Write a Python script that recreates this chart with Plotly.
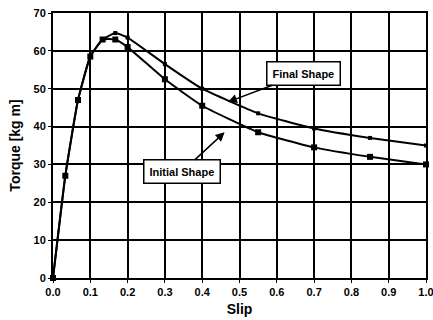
import plotly.graph_objects as go

slip = [0.0, 0.033, 0.067, 0.1, 0.133, 0.167, 0.2, 0.3, 0.4, 0.55, 0.7, 0.85, 1.0]
initial_torque = [0, 27, 47, 58.5, 63, 63, 61, 52.5, 45.5, 38.5, 34.5, 32, 30]
final_torque = [0, 27, 47, 58.5, 63, 64.7, 63.5, 56.5, 50, 43.5, 39.5, 37, 35]
x_ticks = [0.0, 0.1, 0.2, 0.3, 0.4, 0.5, 0.6, 0.7, 0.8, 0.9, 1.0]
y_ticks = [0, 10, 20, 30, 40, 50, 60, 70]

fig = go.Figure()
fig.add_trace(go.Scatter(x=slip, y=final_torque, mode="lines+markers",
                         line=dict(color="black", width=2, shape="spline", smoothing=0.4),
                         marker=dict(symbol="square", size=4, color="black"), name="Final Shape",
                         cliponaxis=False))
fig.add_trace(go.Scatter(x=slip, y=initial_torque, mode="lines+markers",
                         line=dict(color="black", width=2, shape="spline", smoothing=0.4),
                         marker=dict(symbol="square", size=6, color="black"), name="Initial Shape",
                         cliponaxis=False))

font_b = dict(family="Liberation Sans, Arial, sans-serif", color="black", size=11, weight="bold")

fig.add_annotation(x=0.469, y=46.5, ax=0.672, ay=54.0, axref="x", ayref="y",
                   text="Final Shape", showarrow=True, arrowhead=2, arrowsize=1.2,
                   arrowwidth=1.5, arrowcolor="black", bordercolor="black", borderwidth=1.5,
                   borderpad=5, bgcolor="white", font=font_b)
fig.add_annotation(x=0.46, y=38.5, ax=0.346, ay=28.1, axref="x", ayref="y",
                   text="Initial Shape", showarrow=True, arrowhead=2, arrowsize=1.2,
                   arrowwidth=1.5, arrowcolor="black", bordercolor="black", borderwidth=1.5,
                   borderpad=5, bgcolor="white", font=font_b)

fig.update_layout(
    width=433, height=320,
    margin=dict(l=53, r=7, t=13, b=42),
    paper_bgcolor="white", plot_bgcolor="white",
    showlegend=False,
    font=font_b,
)
fig.update_xaxes(range=[0, 1.0], tickvals=x_ticks, ticktext=[f"{v:.1f}" for v in x_ticks],
                 showgrid=True, gridcolor="black", gridwidth=1.5,
                 showline=True, linecolor="black", linewidth=2, mirror=True,
                 ticks="outside", ticklen=3, tickcolor="black", zeroline=False,
                 automargin=False, ticklabeloverflow="allow",
                 title=dict(text="Slip", font=dict(size=14, weight="bold", color="black"), standoff=7),
                 tickfont=dict(size=11, weight="bold"))
fig.update_yaxes(range=[0, 70], tickvals=y_ticks,
                 showgrid=True, gridcolor="black", gridwidth=1.5,
                 showline=True, linecolor="black", linewidth=2, mirror=True,
                 ticks="outside", ticklen=3, tickcolor="black", zeroline=False,
                 automargin=False, ticklabeloverflow="allow",
                 title=dict(text="Torque [kg m]", font=dict(size=14, weight="bold", color="black"), standoff=10),
                 tickfont=dict(size=11, weight="bold"))

fig.write_html("out.html", config={"displayModeBar": False},
               post_script="document.body.style.margin='0';document.body.style.overflow='hidden';")
